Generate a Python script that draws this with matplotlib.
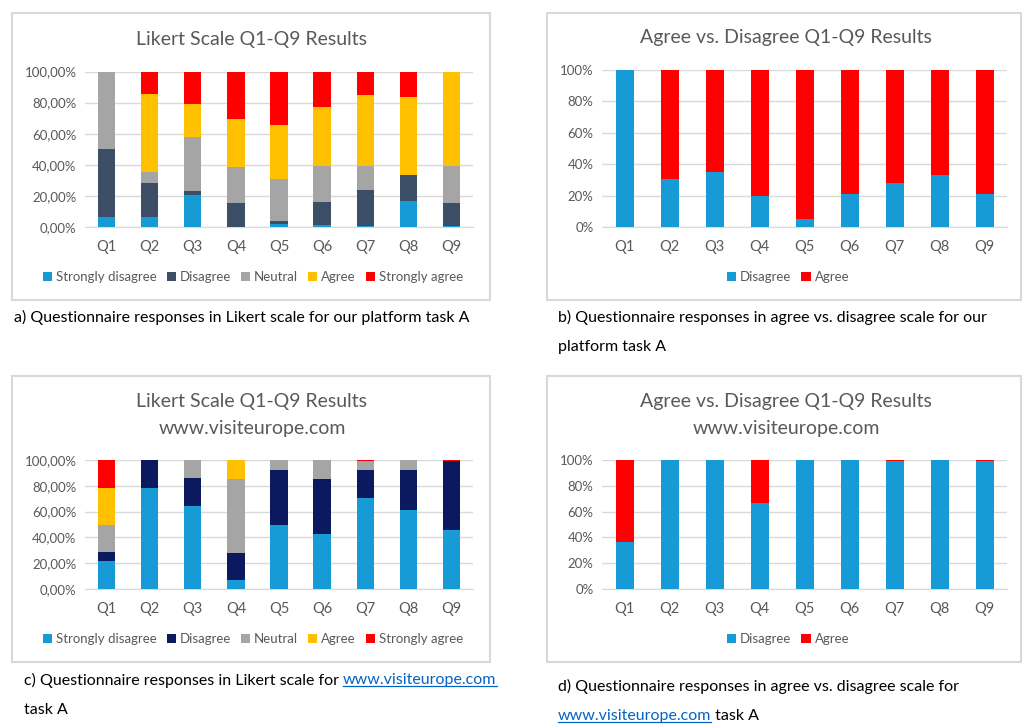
import matplotlib.pyplot as plt
from matplotlib.patches import Rectangle
from matplotlib.lines import Line2D

plt.rcParams["font.family"] = ["Lato", "DejaVu Sans"]

questions = ["Q1", "Q2", "Q3", "Q4", "Q5", "Q6", "Q7", "Q8", "Q9"]
likert_labels = ["Strongly disagree", "Disagree", "Neutral", "Agree", "Strongly agree"]
binary_labels = ["Disagree", "Agree"]

# a) our platform, Likert (%)
sd_a = [6.7, 6.7, 20.8, 0.0, 1.9, 1.0, 0.5, 16.7, 0.5]
d_a = [43.3, 21.6, 2.1, 15.4, 1.7, 15.0, 23.0, 16.6, 15.0]
n_a = [50.0, 7.1, 34.7, 23.0, 27.4, 23.4, 15.5, 0.0, 23.5]
ag_a = [0.0, 50.0, 21.2, 31.0, 34.3, 37.9, 45.6, 50.0, 61.0]
sa_a = [0.0, 14.6, 21.2, 30.6, 34.7, 22.7, 15.4, 16.7, 0.0]

# b) our platform, agree vs disagree (%)
disagree_b = [100.0, 30.3, 35.2, 19.9, 5.1, 21.2, 28.0, 33.0, 20.8]
agree_b = [0.0, 69.7, 64.8, 80.1, 94.9, 78.8, 72.0, 67.0, 79.2]

# c) visiteurope, Likert (%)
sd_c = [21.4, 78.0, 64.3, 6.8, 49.5, 42.6, 70.6, 61.3, 45.4]
d_c = [7.0, 22.0, 21.4, 21.4, 43.0, 43.0, 21.4, 30.7, 53.6]
n_c = [21.4, 0.0, 14.3, 57.1, 7.5, 14.4, 7.0, 8.0, 0.0]
ag_c = [28.4, 0.0, 0.0, 14.7, 0.0, 0.0, 0.0, 0.0, 0.0]
sa_c = [21.8, 0.0, 0.0, 0.0, 0.0, 0.0, 1.0, 0.0, 1.0]

# d) visiteurope, agree vs disagree (%)
disagree_d = [36.3, 100.0, 100.0, 67.0, 100.0, 100.0, 99.0, 100.0, 99.0]
agree_d = [63.7, 0.0, 0.0, 33.0, 0.0, 0.0, 1.0, 0.0, 1.0]

BLUE = "#179BD7"
SLATE = "#3B4E66"
NAVY = "#0B1A5E"
GRAY = "#A5A5A5"
GOLD = "#FFC000"
RED = "#FF0000"
TXT = "#595959"
GRID = "#D9D9D9"
LINK = "#0563C1"

W, H = 1028, 724
fig = plt.figure(figsize=(W / 100, H / 100), dpi=100)


def fx(px):
    return px / W


def fy(py):
    return 1 - py / H


def panel_box(x0, y0, x1, y1):
    fig.patches.append(Rectangle((fx(x0), fy(y1)), fx(x1 - x0), (y1 - y0) / H,
                                 transform=fig.transFigure, fill=False,
                                 edgecolor=GRID, lw=1.5))


def stacked(rect, series, colors, labels, fmt, title, title_pos, legend_pos):
    x0, top, x1, bottom = rect
    ax = fig.add_axes([fx(x0), fy(bottom), fx(x1 - x0), (bottom - top) / H])
    base = [0.0] * len(questions)
    for vals, c, lab in zip(series, colors, labels):
        ax.bar(range(len(questions)), vals, bottom=base, width=0.4, color=c,
               label=lab, zorder=3)
        base = [b + v for b, v in zip(base, vals)]
    ax.set_xlim(-0.5, len(questions) - 0.5)
    ax.set_ylim(0, 100)
    ax.set_yticks(range(0, 101, 20))
    ax.set_yticklabels([fmt(v) for v in range(0, 101, 20)])
    ax.set_xticks(range(len(questions)))
    ax.set_xticklabels(questions)
    ax.tick_params(length=0, labelsize=9.5, colors=TXT, pad=6)
    ax.tick_params(axis="x", labelsize=10.5, pad=9)
    ax.grid(axis="y", color=GRID, lw=1, zorder=0)
    for s in ax.spines.values():
        s.set_visible(False)
    ax.spines["bottom"].set_visible(True)
    ax.spines["bottom"].set_color(GRID)
    cx, ys = title_pos
    for line, ty in zip(title, ys):
        fig.text(fx(cx), fy(ty), line, ha="center", va="center",
                 fontsize=14, color=TXT)
    fig.legend(*ax.get_legend_handles_labels(), loc="center",
               bbox_to_anchor=(fx(legend_pos[0]), fy(legend_pos[1])),
               ncol=len(labels), frameon=False, fontsize=9.5, labelcolor=TXT,
               handlelength=0.7, handleheight=0.7, handletextpad=0.3,
               columnspacing=0.75)
    return ax


pct2 = lambda v: f"{v},00%"
pct0 = lambda v: f"{v}%"

panel_box(12, 13, 490, 300)
panel_box(547, 13, 1021, 300)
panel_box(12, 376, 490, 662)
panel_box(547, 376, 1021, 662)

stacked((85, 71.5, 473, 227), [sd_a, d_a, n_a, ag_a, sa_a],
        [BLUE, SLATE, GRAY, GOLD, RED], likert_labels, pct2,
        ["Likert Scale Q1-Q9 Results"], (252, [39]), (253, 277))
stacked((602, 70, 1007, 227), [disagree_b, agree_b], [BLUE, RED],
        binary_labels, pct0, ["Agree vs. Disagree Q1-Q9 Results"],
        (786, [38]), (788, 277))
stacked((85, 460, 473, 589), [sd_c, d_c, n_c, ag_c, sa_c],
        [BLUE, NAVY, GRAY, GOLD, RED], likert_labels, pct2,
        ["Likert Scale Q1-Q9 Results", "www.visiteurope.com"],
        (252, [402, 428]), (253, 639))
stacked((602, 460, 1007, 589), [disagree_d, agree_d], [BLUE, RED],
        binary_labels, pct0,
        ["Agree vs. Disagree Q1-Q9 Results", "www.visiteurope.com"],
        (786, [402, 428]), (788, 639))

cap = dict(fontsize=11.5, color="black", va="center", ha="left")
fig.text(fx(14), fy(317), "a) Questionnaire responses in Likert scale for our platform task A", **cap)
fig.text(fx(558), fy(317), "b) Questionnaire responses in agree vs. disagree scale for our", **cap)
fig.text(fx(558), fy(347), "platform task A", **cap)
t_c = fig.text(fx(24), fy(680), "c) Questionnaire responses in Likert scale for ", **cap)
link_c = fig.text(0, 0, "www.visiteurope.com", **cap)
fig.text(fx(24), fy(710), "task A", **cap)
fig.text(fx(558), fy(686), "d) Questionnaire responses in agree vs. disagree scale for", **cap)
link_d = fig.text(fx(558), fy(716), "www.visiteurope.com", **cap)
after_d = fig.text(0, 0, " task A", **cap)
link_c.set_color(LINK)
link_d.set_color(LINK)

# place the follow-on pieces of the captions after measuring
fig.canvas.draw()
r = fig.canvas.get_renderer()
bb = t_c.get_window_extent(r)
link_c.set_position((bb.x1 / W, fy(680)))
bb = link_d.get_window_extent(r)
after_d.set_position((bb.x1 / W, fy(716)))
fig.canvas.draw()
for t in (link_c, link_d):
    bb = t.get_window_extent(r)
    fig.lines.append(Line2D([bb.x0 / W, bb.x1 / W], [(bb.y0 + 1) / H] * 2,
                            transform=fig.transFigure, color=LINK, lw=0.9))

fig.savefig("out.png", dpi=100, facecolor="white")
